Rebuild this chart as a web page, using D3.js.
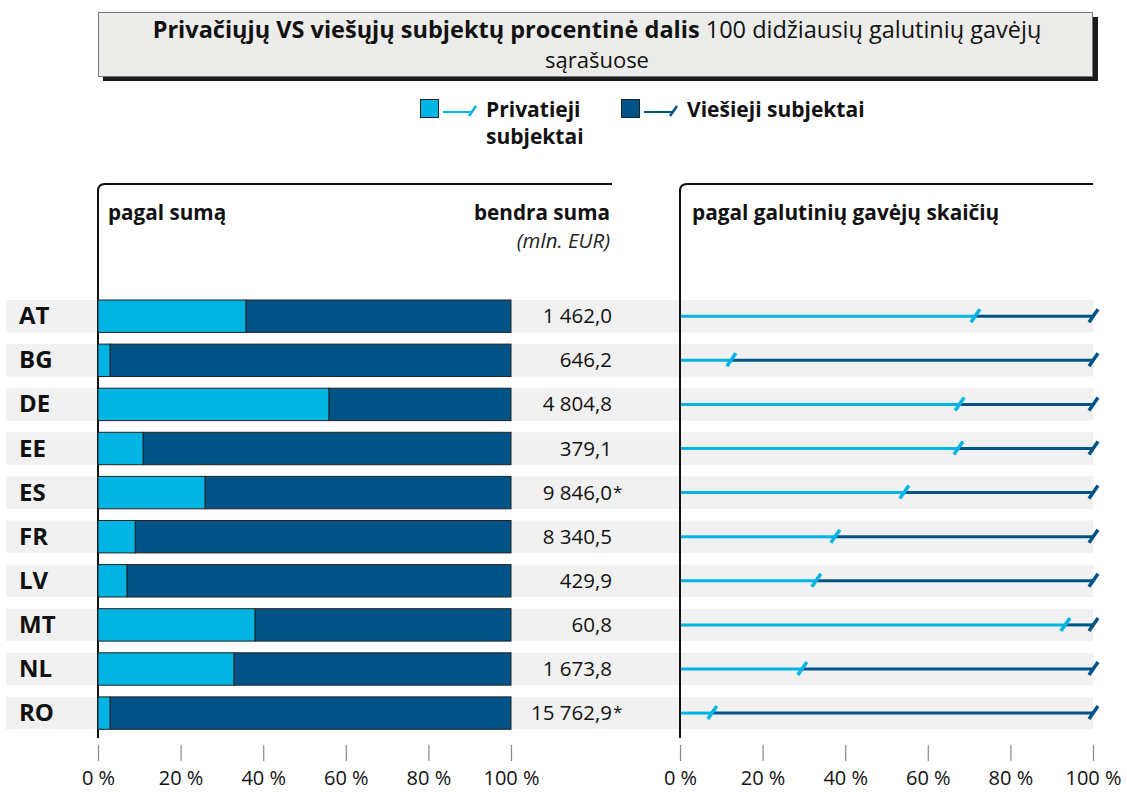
<!DOCTYPE html>
<html>
<head>
<meta charset="utf-8">
<script src="https://cdn.jsdelivr.net/npm/d3@7"></script>
<style>
  body { margin: 0; background: #fff; }
  svg { font-family: "Open Sans", Lato, sans-serif; }
</style>
</head>
<body>
<div id="chart"></div>
<script>
// data
var countries = ["AT", "BG", "DE", "EE", "ES", "FR", "LV", "MT", "NL", "RO"];
var privateBySum = [35.8, 2.9, 55.9, 10.9, 25.9, 9.0, 7.0, 38.0, 32.9, 2.9];
var privateByCount = [71.4, 12.3, 67.6, 67.3, 54.2, 37.5, 32.9, 93.2, 29.5, 7.7];
var totals = ["1 462,0", "646,2", "4 804,8", "379,1", "9 846,0", "8 340,5", "429,9", "60,8", "1 673,8", "15 762,9"];
var totalFlags = ["", "", "", "", "*", "", "", "", "", "*"];
var tickValues = [0, 20, 40, 60, 80, 100];

var lightBlue = "#00b4e3";
var darkBlue = "#005386";

var width = 1127, height = 792;
var svg = d3.select("#chart").append("svg")
  .attr("width", width)
  .attr("height", height);

var xL = d3.scaleLinear().domain([0, 100]).range([98, 511]);
var xR = d3.scaleLinear().domain([0, 100]).range([680, 1093]);
var y = d3.scaleBand().domain(countries)
  .range([300, 729.3]).paddingInner(0.265).paddingOuter(0);

/* title box */
svg.append("rect").attr("x", 103).attr("y", 17).attr("width", 995).attr("height", 64).attr("fill", "#1a1a1a");
svg.append("rect").attr("x", 98.5).attr("y", 12.5).attr("width", 994).attr("height", 64)
  .attr("fill", "#ececea").attr("stroke", "#777").attr("stroke-width", 1);
var t1 = svg.append("text").attr("x", 597).attr("y", 38).attr("text-anchor", "middle")
  .attr("font-size", 23.5).attr("fill", "#111");
t1.append("tspan").attr("font-weight", "bold").text("Privačiųjų VS viešųjų subjektų procentinė dalis");
t1.append("tspan").text(" 100 didžiausių galutinių gavėjų");
svg.append("text").attr("x", 597).attr("y", 68).attr("text-anchor", "middle")
  .attr("font-size", 22).attr("fill", "#111").text("sąrašuose");

/* legend */
var legend = [
  {x: 420, color: lightBlue, lines: ["Privatieji", "subjektai"]},
  {x: 621, color: darkBlue, lines: ["Viešieji subjektai"]}
];
legend.forEach(function(d) {
  var g = svg.append("g").attr("transform", "translate(" + d.x + ",0)");
  g.append("rect").attr("x", 0.5).attr("y", 99.5).attr("width", 18).attr("height", 18)
    .attr("fill", d.color).attr("stroke", "#222");
  g.append("line").attr("x1", 23).attr("x2", 52).attr("y1", 112).attr("y2", 112)
    .attr("stroke", d.color).attr("stroke-width", 2);
  g.append("line").attr("x1", 49).attr("x2", 56).attr("y1", 116).attr("y2", 106)
    .attr("stroke", d.color).attr("stroke-width", 2.5);
  d.lines.forEach(function(s, i) {
    g.append("text").attr("x", 66).attr("y", 117 + i * 27).attr("font-size", 21)
      .attr("font-weight", "bold").attr("fill", "#111").text(s);
  });
});

/* gray row bands */
svg.append("g").selectAll("rect").data(countries).enter().append("rect")
  .attr("x", 6).attr("width", xR(100) - 6)
  .attr("y", function(d) { return y(d); })
  .attr("height", y.bandwidth())
  .attr("fill", "#f1f1f1");

/* panel frames */
function frame(x0, x1) {
  svg.append("path")
    .attr("d", "M" + x0 + ",738 V191 Q" + x0 + ",184 " + (x0 + 7) + ",184 H" + x1)
    .attr("fill", "none").attr("stroke", "#111").attr("stroke-width", 2);
}
frame(98, 612);
frame(680, 1093);

svg.append("text").attr("x", 108).attr("y", 220).attr("font-size", 20.7).attr("font-weight", "bold")
  .attr("fill", "#111").text("pagal sumą");
svg.append("text").attr("x", 610).attr("y", 220).attr("text-anchor", "end").attr("font-size", 20.7)
  .attr("font-weight", "bold").attr("fill", "#111").text("bendra suma");
svg.append("text").attr("x", 610).attr("y", 248).attr("text-anchor", "end").attr("font-size", 20.5)
  .attr("font-style", "italic").attr("fill", "#222").text("(mln. EUR)");
svg.append("text").attr("x", 692).attr("y", 220).attr("font-size", 20.8).attr("font-weight", "bold")
  .attr("fill", "#111").text("pagal galutinių gavėjų skaičių");

/* country labels */
svg.append("g").selectAll("text").data(countries).enter().append("text")
  .attr("x", 19).attr("y", function(d) { return y(d) + y.bandwidth() / 2 + 8; })
  .attr("font-size", 24).attr("font-weight", "bold").attr("fill", "#111")
  .text(function(d) { return d; });

/* left stacked bars */
var rows = countries.map(function(c, i) {
  return {c: c, p: privateBySum[i], n: privateByCount[i], total: totals[i], flag: totalFlags[i]};
});
var bars = svg.append("g");
bars.selectAll(".pub").data(rows).enter().append("rect")
  .attr("x", function(d) { return xL(d.p); })
  .attr("width", function(d) { return xL(100) - xL(d.p); })
  .attr("y", function(d) { return y(d.c); })
  .attr("height", y.bandwidth())
  .attr("fill", darkBlue).attr("stroke", "#222").attr("stroke-width", 1);
bars.selectAll(".priv").data(rows).enter().append("rect")
  .attr("x", xL(0))
  .attr("width", function(d) { return xL(d.p) - xL(0); })
  .attr("y", function(d) { return y(d.c); })
  .attr("height", y.bandwidth())
  .attr("fill", lightBlue).attr("stroke", "#222").attr("stroke-width", 1);

/* totals */
var tot = svg.append("g").selectAll("g").data(rows).enter().append("g");
tot.append("text").attr("x", 612)
  .attr("y", function(d) { return y(d.c) + y.bandwidth() / 2 + 7; })
  .attr("text-anchor", "end").attr("font-size", 20.5).attr("fill", "#111")
  .text(function(d) { return d.total; });
tot.append("text").attr("x", 613)
  .attr("y", function(d) { return y(d.c) + y.bandwidth() / 2 + 5; })
  .attr("font-size", 17).attr("fill", "#111")
  .text(function(d) { return d.flag; });

/* right panel lines */
var lines = svg.append("g");
lines.selectAll(".lpub").data(rows).enter().append("line")
  .attr("x1", function(d) { return xR(d.n); }).attr("x2", xR(100))
  .attr("y1", function(d) { return y(d.c) + y.bandwidth() / 2; })
  .attr("y2", function(d) { return y(d.c) + y.bandwidth() / 2; })
  .attr("stroke", darkBlue).attr("stroke-width", 3);
lines.selectAll(".lpriv").data(rows).enter().append("line")
  .attr("x1", xR(0) + 1).attr("x2", function(d) { return xR(d.n); })
  .attr("y1", function(d) { return y(d.c) + y.bandwidth() / 2; })
  .attr("y2", function(d) { return y(d.c) + y.bandwidth() / 2; })
  .attr("stroke", lightBlue).attr("stroke-width", 3);
function slash(sel, xf, color) {
  sel.append("line")
    .attr("x1", function(d) { return xf(d) - 4; })
    .attr("x2", function(d) { return xf(d) + 5; })
    .attr("y1", function(d) { return y(d.c) + y.bandwidth() / 2 + 6; })
    .attr("y2", function(d) { return y(d.c) + y.bandwidth() / 2 - 7; })
    .attr("stroke", color).attr("stroke-width", 3.5);
}
slash(lines.selectAll(".sp").data(rows).enter(), function(d) { return xR(d.n); }, lightBlue);
slash(lines.selectAll(".sd").data(rows).enter(), function() { return xR(100); }, darkBlue);

/* axes */
function drawAxis(scale) {
  var g = svg.append("g").attr("transform", "translate(0,745)")
    .call(d3.axisBottom(scale).tickValues(tickValues).tickSize(16).tickPadding(10)
      .tickFormat(function(d) { return d + " %"; }));
  g.select(".domain").remove();
  g.selectAll(".tick line").attr("stroke", "#888").attr("stroke-width", 1.2);
  g.selectAll(".tick text").attr("font-size", 20).attr("fill", "#111")
    .attr("font-family", "'Open Sans', Lato, sans-serif");
}
drawAxis(xL);
drawAxis(xR);
</script>
</body>
</html>
